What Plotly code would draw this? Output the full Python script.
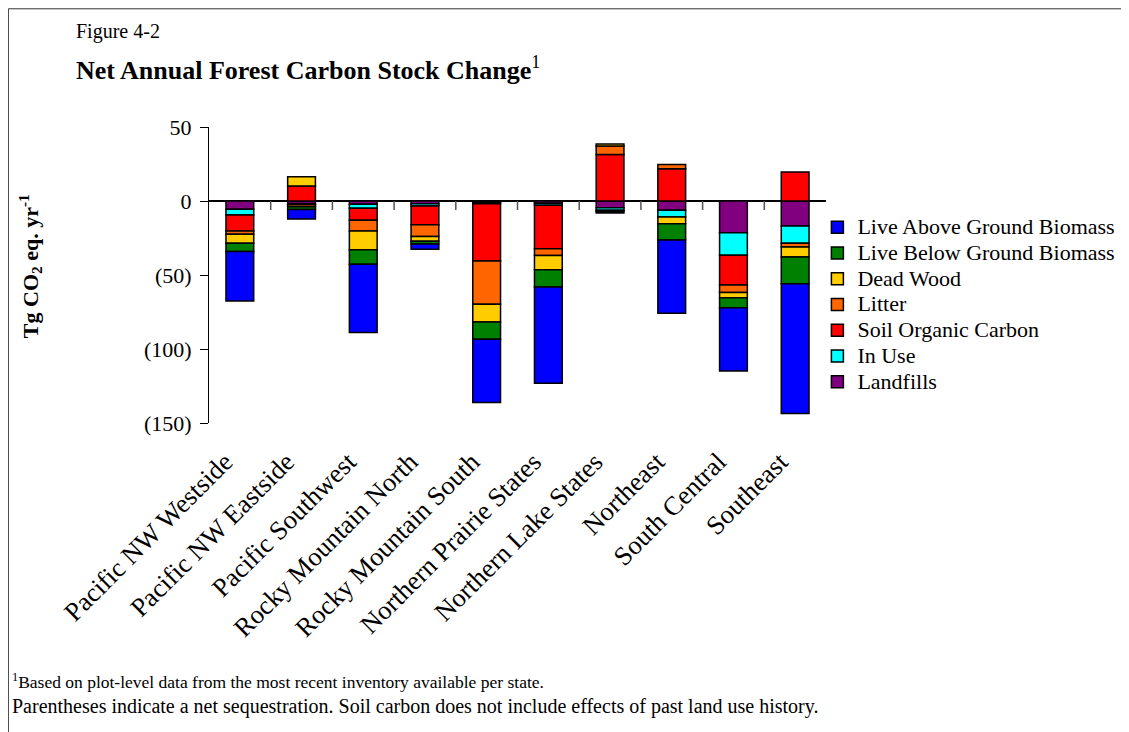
import plotly.graph_objects as go

regions = ["Pacific NW Westside", "Pacific NW Eastside", "Pacific Southwest",
           "Rocky Mountain North", "Rocky Mountain South", "Northern Prairie States",
           "Northern Lake States", "Northeast", "South Central", "Southeast"]

live_above = [-33.3, -6.5, -46.2, -3.6, -42.8, -65.1, -1.0, -49.5, -42.8, -87.6]
live_below = [-5.6, -1.8, -9.7, -1.8, -11.7, -11.7, -0.8, -11.0, -6.8, -18.0]
dead_wood = [-6.1, 6.3, -12.8, -3.2, -11.9, -9.5, 1.4, -4.5, -3.4, -6.8]
litter = [-2.3, -1.3, -7.2, -7.9, -29.3, -4.7, 5.6, 2.9, -5.2, -2.5]
soil_org = [-10.8, 10.1, -8.1, -12.8, -38.7, -29.3, 31.5, 21.8, -20.0, 19.6]
in_use = [-3.8, -0.8, -2.7, -1.5, -0.8, -1.4, -1.8, -4.5, -15.3, -11.7]
landfills = [-5.6, -1.8, -2.2, -1.8, -1.0, -1.5, -4.5, -6.3, -21.4, -16.9]

series = [
    ("Landfills", landfills, "#800080"),
    ("In Use", in_use, "#00FFFF"),
    ("Soil Organic Carbon", soil_org, "#FF0000"),
    ("Litter", litter, "#FF6600"),
    ("Dead Wood", dead_wood, "#FFCC00"),
    ("Live Below Ground Biomass", live_below, "#008000"),
    ("Live Above Ground Biomass", live_above, "#0000FF"),
]

y_ticks = [50, 0, -50, -100, -150]
y_ticktext = ["50", "0", "(50)", "(100)", "(150)"]

FONT = "Liberation Serif, Times New Roman, serif"

OFF = 8  # page body margin
W, H = 1129 - OFF, 732 - OFF
L, R = 209 - OFF, 825.6 - OFF
T, B = 126.7 - OFF, 422.7 - OFF


def px_x(p):
    return (p - OFF - L) / (R - L)


def px_y(p):
    return (B - (p - OFF)) / (B - T)


fig = go.Figure()
for name, vals, col in series:
    fig.add_trace(go.Bar(
        x=regions, y=vals,
        name='<span style="font-size:22px">' + name + '</span>',
        marker=dict(color=col, line=dict(color="black", width=1.5)),
        width=0.45,
    ))

shapes = []
for i in range(len(regions) - 1):
    shapes.append(dict(type="line", xref="x", yref="y", ysizemode="pixel",
                       yanchor=0, x0=i + 0.5, x1=i + 0.5, y0=0, y1=-9,
                       line=dict(color="#555555", width=1.5)))
shapes.append(dict(type="rect", xref="paper", yref="paper",
                   x0=px_x(8.5), x1=px_x(1160), y0=px_y(760), y1=px_y(8.5),
                   line=dict(color="#333333", width=1), layer="below"))

fig.update_layout(
    width=W, height=H,
    barmode="relative",
    plot_bgcolor="white", paper_bgcolor="white",
    margin=dict(l=L, r=W - R, t=T, b=H - B, autoexpand=False),
    font=dict(family=FONT, size=19, color="black"),
    showlegend=True,
    legend=dict(x=px_x(817), y=px_y(209), xanchor="left", yanchor="top",
                traceorder="reversed", font=dict(family=FONT, size=17.5),
                itemwidth=30, tracegroupgap=0, bgcolor="rgba(0,0,0,0)"),
    xaxis=dict(range=[-0.5, len(regions) - 0.5], tickangle=-45, showline=False,
               showgrid=False, ticks="", ticklabelstandoff=17, ticklabelshift=-15,
               tickfont=dict(family=FONT, size=26.5)),
    yaxis=dict(range=[-150, 50], tickvals=y_ticks, ticktext=y_ticktext,
               showgrid=False, showline=True, linecolor="black", linewidth=1,
               ticks="outside", ticklen=8, tickcolor="black",
               zeroline=True, zerolinecolor="black", zerolinewidth=1.5,
               tickfont=dict(family=FONT, size=22), ticklabelstandoff=4),
    shapes=shapes,
    annotations=[
        dict(text="Figure 4-2", xref="paper", yref="paper", x=px_x(74), y=px_y(31),
             xanchor="left", yanchor="middle", showarrow=False,
             font=dict(family=FONT, size=20)),
        dict(text="<b>Net Annual Forest Carbon Stock Change</b><sup>1</sup>",
             xref="paper", yref="paper", x=px_x(74), y=px_y(68),
             xanchor="left", yanchor="middle", showarrow=False,
             font=dict(family=FONT, size=26)),
        dict(text="<b>Tg CO<sub>2</sub> eq. yr<sup>-1</sup></b>",
             xref="paper", yref="paper", x=px_x(30), y=px_y(266),
             xanchor="center", yanchor="middle", textangle=-90, showarrow=False,
             font=dict(family=FONT, size=22)),
        dict(text="<sup>1</sup>Based on plot-level data from the most recent inventory available per state.",
             xref="paper", yref="paper", x=px_x(10), y=px_y(681),
             xanchor="left", yanchor="middle", showarrow=False,
             font=dict(family=FONT, size=17.5)),
        dict(text="Parentheses indicate a net sequestration. Soil carbon does not include effects of past land use history.",
             xref="paper", yref="paper", x=px_x(10), y=px_y(706),
             xanchor="left", yanchor="middle", showarrow=False,
             font=dict(family=FONT, size=20)),
    ],
)

fig.write_html("out.html")
